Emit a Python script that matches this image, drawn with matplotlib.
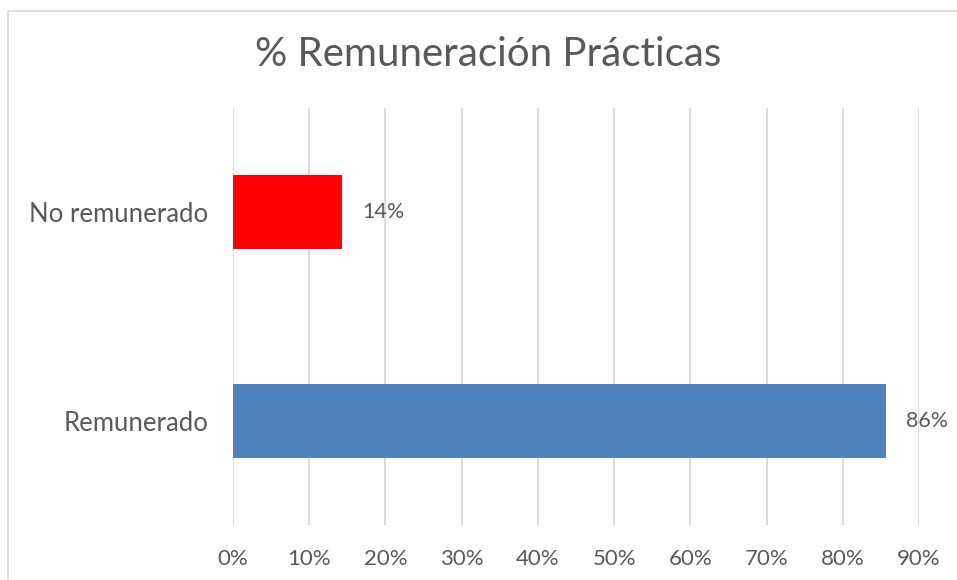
import matplotlib.pyplot as plt
from matplotlib.patches import Rectangle
from matplotlib.ticker import FuncFormatter

categorias = ["Remunerado", "No remunerado"]
valores = [0.857, 0.143]
colores = ["#4F81BD", "#FF0000"]
etiquetas = ["86%", "14%"]

W, H = 957, 580
plt.rcParams['font.family'] = ['Lato', 'DejaVu Sans']
gris = "#595959"

fig = plt.figure(figsize=(W / 100, H / 100), dpi=100)
# borde del grafico (solo se ven arriba e izquierda)
fig.patches.append(Rectangle((8 / W, -0.1), 1.2, (H - 11) / H + 0.1,
                             transform=fig.transFigure, fill=False,
                             edgecolor="#D9D9D9", linewidth=1.2))

ax = fig.add_axes([233 / W, 1 - 525 / H, (919 - 233) / W, (525 - 108) / H])
pos = range(len(categorias))
ax.barh(pos, valores, height=0.355, color=colores)
ax.set_xlim(0, 0.9)
ax.set_ylim(-0.5, 1.5)
ax.set_xticks([i / 10 for i in range(10)])
ax.xaxis.set_major_formatter(FuncFormatter(lambda v, p: f"{v * 100:.0f}%"))
ax.set_yticks(list(pos))
ax.set_yticklabels(categorias)
ax.grid(axis="x", color="#D9D9D9", linewidth=1.3)
ax.set_axisbelow(True)
for s in ax.spines.values():
    s.set_visible(False)
ax.tick_params(length=0, colors=gris)
ax.tick_params(axis="x", labelsize=16, pad=17)
ax.tick_params(axis="y", labelsize=18.5, pad=18)

for i, v in enumerate(valores):
    ax.text(v + 0.026, i, etiquetas[i], va="center", ha="left",
            fontsize=15.5, color=gris)

fig.text(488 / W, 1 - 55 / H, "% Remuneración Prácticas", ha="center",
         va="center", fontsize=29, color=gris)

fig.savefig("out.png", dpi=100)
